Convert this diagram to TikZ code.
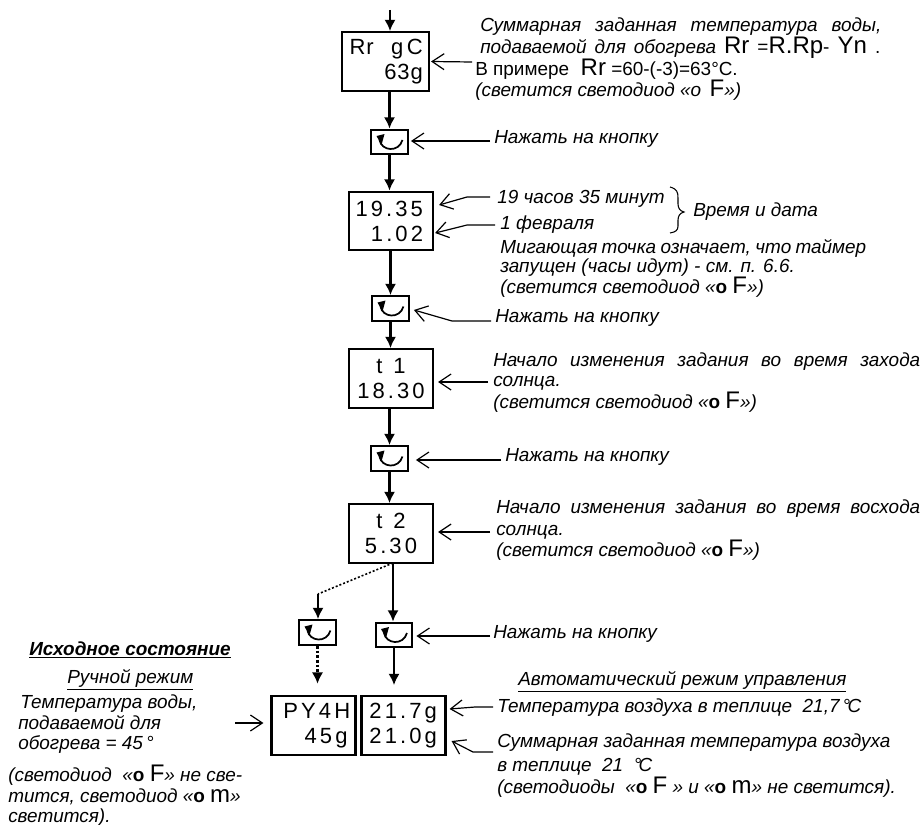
\documentclass[tikz,border=0pt]{standalone}
\usepackage{fontspec}
\setmainfont{Liberation Sans}
\newfontfamily\dspfont[LetterSpace=14]{Liberation Sans}
\newfontfamily\dsptight[LetterSpace=4]{Liberation Sans}
\usetikzlibrary{arrows.meta}
\newdimen\pxu \pxu=0.75pt
\newcommand\Bg[1]{{\fontsize{18}{16}\selectfont\upshape #1}}
\newcommand\Up[1]{{\fontsize{14.2}{14}\selectfont\upshape #1}}
\newcommand\Bo{{\bfseries\upshape o}}
\newcommand\jl[2]{\makebox[#1\pxu][s]{#2}}
\newcommand\rp[1]{\rule{#1}{0pt}}
\tikzset{
  x=0.75pt,y=-0.75pt,
  disp/.style={draw,line width=1.6pt,inner sep=0pt,minimum width=63pt,minimum height=44pt,
    text width=60pt,align=center,font=\dspfont\fontsize{16.5}{18.75}\selectfont},
  dispr/.style={disp,align=right},
  btn/.style={draw,line width=1.6pt,inner sep=0pt,minimum width=27.5pt,minimum height=18.5pt},
  flow/.style={line width=1.7pt,-{Latex[length=8.5pt,width=8.5pt]}},
  call/.style={line width=0.9pt,-{Straight Barb[length=9pt,width=12pt,line width=0.9pt]},line join=round},
  lab/.style={inner sep=0pt,anchor=base west,font=\fontsize{14.2}{16}\selectfont\itshape},
  btnicon/.pic={
    \draw[line width=1.3pt] (-10,-2) .. controls (-8,9) and (9,11) .. (13,-2);
    \fill (-13,-6) -- (-5,-8) -- (-8,3) -- cycle;
  }
}
\begin{document}
\begin{tikzpicture}
\useasboundingbox (0,0) rectangle (923,824);
% boxes
\node[disp,minimum width=65.25pt,text width=56pt,align=right,font=\dsptight\fontsize{16.5}{18.75}\selectfont] (b1) at (385.5,61.5) {\makebox[56pt]{\hspace{1pt}Rr\hfill g\,C}\\63g};
\node[dispr] (b2) at (391,221) {19.35\rp{6pt}\\1.02\rp{6pt}};
\node[disp] (b3) at (391,378.5) {t\ \,1\\18.30};
\node[disp] (b4) at (391,533.5) {t\ \,2\\5.30};
\node[dispr] (b5) at (313.5,725.5) {PY4H\rp{2.5pt}\\45g\rp{4.5pt}};
\node[dispr] (b6) at (403.5,725.5) {21.7g\rp{5pt}\\21.0g\rp{5pt}};
% buttons
\node[btn] (k1) at (389.5,142) {};
\node[btn] (k2) at (390.5,308.5) {};
\node[btn] (k3) at (389.5,458.5) {};
\node[btn] (k4) at (317.5,632.5) {};
\node[btn] (k5) at (394,635) {};
\foreach \k in {k1,k2,k3,k4,k5} \pic at (\k) {btnicon};
% main flow
\coordinate (top) at (390,10);
\draw[flow] (top) -- (top |- b1.north);
\draw[flow] (k1.north |- b1.south) -- (k1.north);
\draw[flow] (k1.south) -- (k1.south |- b2.north);
\draw[flow] (k2.north |- b2.south) -- (k2.north);
\draw[flow] (k2.south) -- (k2.south |- b3.north);
\draw[flow] (k3.north |- b3.south) -- (k3.north);
\draw[flow] (k3.south) -- (k3.south |- b4.north);
\coordinate (dj) at (318,594);
\coordinate (dr) at (393,563);
\draw[flow] (dr) -- (dr |- k5.north);
\draw[line width=1.2pt,dash pattern=on 1.5pt off 1.5pt] (dr) -- (dj);
\draw[flow] (dj) -- (dj |- k4.north);
\draw[flow,shorten >=7.5pt] (k5.south) -- (k5.south |- b6.north);
\draw[flow,shorten >=8.5pt,dash pattern=on 2pt off 1.5pt,line width=2pt] (k4.south) -- (k4.south |- b5.north);
% callouts
\coordinate (a1) at (472,62);
\draw[call] (a1) -- ([xshift=0.75pt]b1.east);
\coordinate (a2) at (490,141);
\draw[call] (a2) -- ([shift={(2,-1)}]k1.east);
\coordinate (a3) at (490,197); \coordinate (a3b) at (467,197);
\draw[call] (a3) -- (a3b) -- ([shift={(5,-16)}]b2.east);
\coordinate (a4) at (495,225); \coordinate (a4b) at (467,225);
\draw[call] (a4) -- (a4b) -- ([shift={(1,12)}]b2.east);
\coordinate (a5) at (491,321); \coordinate (a5b) at (452,321);
\draw[call] (a5) -- (a5b) -- ([shift={(4,1.5)}]k2.east);
\coordinate (a6) at (488,382);
\draw[call] (a6) -- ([shift={(4,3.5)}]b3.east);
\coordinate (a7) at (501,460);
\draw[call] (a7) -- ([shift={(7,1.5)}]k3.east);
\coordinate (a8) at (490,532);
\draw[call] (a8) -- ([shift={(4,-1.5)}]b4.east);
\coordinate (a9) at (490,636);
\draw[call] (a9) -- ([shift={(3,1)}]k5.east);
\coordinate (a10) at (235,723);
\draw[call] (a10) -- ([shift={(-7,-2.5)}]b5.west);
\coordinate (a11) at (493,707); \coordinate (a11b) at (475,707);
\draw[call] (a11) -- (a11b) -- ([shift={(3,-16.5)}]b6.east);
\coordinate (a12) at (493,752); \coordinate (a12b) at (473,752);
\draw[call] (a12) -- (a12b) -- ([shift={(5,15.5)}]b6.east);
% brace
\coordinate (br1) at (670,187); \coordinate (br2) at (684,212); \coordinate (br3) at (670,233);
\draw[line width=0.8pt] (br1) .. controls (677,189) and (678,192) .. (678,198) -- (678,204) .. controls (678,208) and (680,211) .. (br2) .. controls (680,213) and (678,216) .. (678,220) -- (678,226) .. controls (678,230) and (676,232) .. (br3);
% texts
\node[lab] (t1) at (480,32) {\jl{401}{Суммарная заданная температура воды,}};
\node[lab] (t2) at (480,54) {\jl{400}{подаваемой для обогрева \Bg{Rr} \Up{=}\Bg{R.Rp}\Up{-} \Bg{Yn} \Up{.}}};
\node[lab] (t3) at (475,75) {\Up{В примере}\,\, \Bg{Rr} \Up{=60-(-3)=63\textdegree C.}};
\node[lab] (t4) at (475,96) {(светится светодиод «о\, \Bg{F}»)};
\node[lab] (t5) at (494,143) {Нажать на кнопку};
\node[lab] (t6) at (497,203) {19 часов 35 минут};
\node[lab] (t7) at (500,229) {1 февраля};
\node[lab] (t8) at (693,216) {Время и дата};
\node[lab] (t9) at (500,253) {\jl{366}{Мигающая точка означает, что таймер}};
\node[lab] (t10) at (500,272) {запущен (часы идут) - см. п. 6.6.};
\node[lab] (t11) at (500,293) {(светится светодиод «\Bo\ \Bg{F}»)};
\node[lab] (t12) at (495,322) {Нажать на кнопку};
\node[lab] (t13) at (493,366) {\jl{427}{Начало изменения задания во время захода}};
\node[lab] (t14) at (493,386) {солнца.};
\node[lab] (t15) at (493,408) {(светится светодиод «\Bo\ \Bg{F}»)};
\node[lab] (t16) at (505,461) {Нажать на кнопку};
\node[lab] (t17) at (496,513) {\jl{424}{Начало изменения задания во время восхода}};
\node[lab] (t18) at (496,535) {солнца.};
\node[lab] (t19) at (496,556) {(светится светодиод «\Bo\ \Bg{F}»)};
\node[lab] (t20) at (493,638) {Нажать на кнопку};
\node[lab] (t21) at (29,655) {\bfseries\underline{Исходное состояние}};
\node[lab] (t22) at (67,683) {\underline{Ручной режим}};
\node[lab] (t23) at (20,708) {Температура воды,};
\node[lab] (t24) at (18,729) {подаваемой для};
\node[lab] (t25) at (18,749) {обогрева = 45\,\textdegree};
\node[lab] (t26) at (8,781) {(светодиод\ \ «\Bo\ \Bg{F}» не све-};
\node[lab] (t27) at (8,802) {тится, светодиод «\Bo\ \Bg{m}»};
\node[lab] (t28) at (8,822) {светится).};
\node[lab] (t29) at (518,685) {\underline{Автоматический режим управления}};
\node[lab] (t30) at (497,712) {Температура воздуха в теплице\ \ 21,7\,\textdegree\kern-2pt C};
\node[lab] (t31) at (497,747) {Суммарная заданная температура воздуха};
\node[lab] (t32) at (497,771) {в теплице\ \ 21\ \ \textdegree\kern-2pt C};
\node[lab] (t33) at (497,793) {(светодиоды\ \ «\Bo\ \Bg{F} » и «\Bo\ \Bg{m}» не светится).};
\end{tikzpicture}
\end{document}
